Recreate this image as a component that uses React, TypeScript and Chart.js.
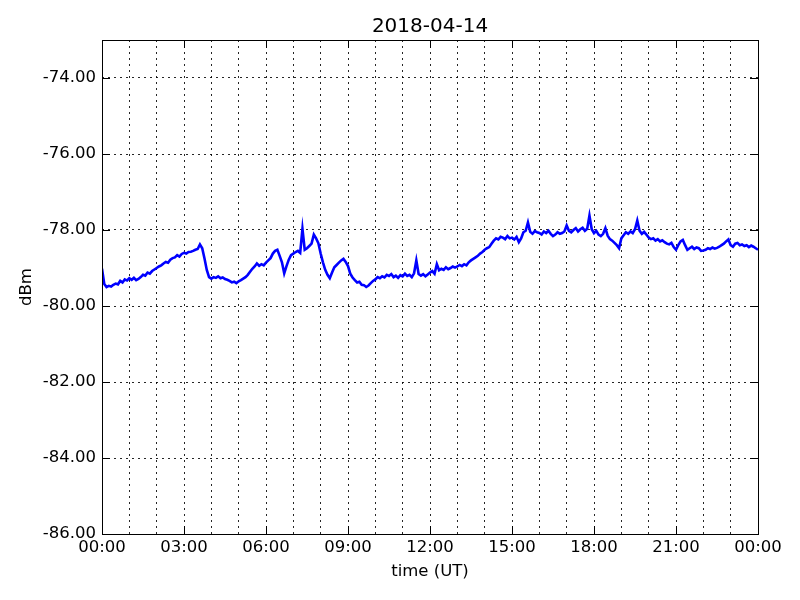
import React, { useEffect, useRef } from "react";
import { Chart, registerables } from "chart.js";

Chart.register(...registerables);

const chartTitle = "2018-04-14";
const xAxisLabel = "time (UT)";
const yAxisLabel = "dBm";
const sampleStepMinutes = 5;
const xTickLabels = ["00:00", "03:00", "06:00", "09:00", "12:00", "15:00", "18:00", "21:00", "00:00"];
const yTickValues = [-86, -84, -82, -80, -78, -76, -74];

// signal level (dBm), one sample every 5 minutes, 00:00 .. 24:00
const signalDbm = [
  // 00h
  -79.02, -79.42, -79.50, -79.47, -79.49, -79.44, -79.41, -79.43, -79.34, -79.38, -79.30, -79.33,
  // 01h
  -79.27, -79.31, -79.26, -79.32, -79.29, -79.24, -79.18, -79.20, -79.12, -79.15, -79.08, -79.04,
  // 02h
  -79.00, -78.96, -78.93, -78.88, -78.84, -78.86, -78.78, -78.74, -78.72, -78.66, -78.70, -78.63,
  // 03h
  -78.60, -78.62, -78.58, -78.57, -78.55, -78.52, -78.50, -78.38, -78.48, -78.75, -79.05, -79.24,
  // 04h
  -79.28, -79.24, -79.26, -79.22, -79.27, -79.25, -79.29, -79.31, -79.34, -79.38, -79.36, -79.40,
  // 05h
  -79.35, -79.32, -79.28, -79.24, -79.18, -79.10, -79.02, -78.96, -78.88, -78.94, -78.90, -78.93,
  // 06h
  -78.86, -78.80, -78.74, -78.62, -78.55, -78.52, -78.68, -78.85, -79.14, -78.95, -78.78, -78.66,
  // 07h
  -78.62, -78.58, -78.55, -78.60, -77.97, -78.52, -78.48, -78.42, -78.36, -78.12, -78.22, -78.35,
  // 08h
  -78.62, -78.85, -79.05, -79.18, -79.27, -79.12, -78.98, -78.92, -78.86, -78.80, -78.76, -78.84,
  // 09h
  -78.95, -79.15, -79.25, -79.32, -79.38, -79.36, -79.44, -79.45, -79.50, -79.46, -79.40, -79.34,
  // 10h
  -79.30, -79.24, -79.27, -79.22, -79.25, -79.18, -79.21, -79.16, -79.24, -79.20, -79.26, -79.19,
  // 11h
  -79.22, -79.15, -79.21, -79.18, -79.24, -79.14, -78.80, -79.16, -79.20, -79.16, -79.22, -79.17,
  // 12h
  -79.12, -79.08, -79.15, -78.90, -79.06, -79.02, -79.05, -78.98, -79.03, -79.00, -78.96, -78.99,
  // 13h
  -78.96, -78.92, -78.95, -78.90, -78.93, -78.85, -78.80, -78.76, -78.72, -78.68, -78.62, -78.58,
  // 14h
  -78.52, -78.48, -78.45, -78.36, -78.28, -78.22, -78.25, -78.18, -78.20, -78.24, -78.16, -78.22,
  // 15h
  -78.20, -78.25, -78.18, -78.32, -78.22, -78.06, -78.02, -77.80, -78.05, -78.10, -78.03, -78.06,
  // 16h
  -78.08, -78.12, -78.04, -78.08, -78.02, -78.10, -78.16, -78.12, -78.06, -78.10, -78.08, -78.04,
  // 17h
  -77.88, -78.02, -78.06, -78.00, -77.95, -78.04, -77.98, -77.94, -78.02, -77.97, -77.62, -77.98,
  // 18h
  -78.08, -78.02, -78.12, -78.16, -78.10, -77.95, -78.15, -78.24, -78.28, -78.34, -78.40, -78.48,
  // 19h
  -78.22, -78.14, -78.06, -78.10, -78.04, -78.08, -77.98, -77.75, -78.02, -78.10, -78.05, -78.12,
  // 20h
  -78.20, -78.24, -78.22, -78.28, -78.24, -78.30, -78.27, -78.32, -78.36, -78.38, -78.34, -78.45,
  // 21h
  -78.52, -78.40, -78.30, -78.26, -78.40, -78.52, -78.48, -78.44, -78.50, -78.46, -78.48, -78.55,
  // 22h
  -78.54, -78.52, -78.48, -78.50, -78.46, -78.49, -78.47, -78.44, -78.40, -78.36, -78.30, -78.25,
  // 23h
  -78.40, -78.44, -78.36, -78.34, -78.40, -78.38, -78.42, -78.40, -78.45, -78.41, -78.44, -78.48,
  // 24h
  -78.52,
];

const FONT = "'DejaVu Sans', sans-serif";

const frameAndTicks = {
  id: "frameAndTicks",
  afterDraw(chart: any) {
    const { ctx, chartArea } = chart;
    const { left, right, top, bottom } = chartArea;
    const xs = chart.scales.x;
    const ys = chart.scales.y;
    ctx.save();
    ctx.strokeStyle = "#000";
    ctx.lineWidth = 1;
    ctx.beginPath();
    yTickValues.forEach((v) => {
      const y = Math.round(ys.getPixelForValue(v)) + 0.5;
      ctx.moveTo(left, y);
      ctx.lineTo(left + 8, y);
      ctx.moveTo(right, y);
      ctx.lineTo(right - 8, y);
    });
    xTickLabels.forEach((_, i) => {
      const x = Math.round(xs.getPixelForValue(i * 180)) + 0.5;
      ctx.moveTo(x, bottom);
      ctx.lineTo(x, bottom - 8);
      ctx.moveTo(x, top);
      ctx.lineTo(x, top + 8);
    });
    ctx.stroke();
    ctx.strokeRect(Math.round(left) + 0.5, Math.round(top) + 0.5, Math.round(right - left), Math.round(bottom - top));
    // title centred over the plot area
    ctx.fillStyle = "#000";
    ctx.font = `20px ${FONT}`;
    ctx.textAlign = "center";
    ctx.textBaseline = "middle";
    ctx.fillText(chartTitle, (left + right) / 2, 27);
    ctx.restore();
  },
};

export default function App() {
  const canvasRef = useRef<HTMLCanvasElement | null>(null);

  useEffect(() => {
    if (!canvasRef.current) return;
    const points = signalDbm.map((v, i) => ({ x: i * sampleStepMinutes, y: v }));
    const chart = new Chart(canvasRef.current, {
      type: "line",
      data: {
        datasets: [
          {
            data: points,
            borderColor: "#0000ff",
            borderWidth: 2.6,
            pointRadius: 0,
            tension: 0,
            fill: false,
          },
        ],
      },
      options: {
        animation: false,
        responsive: false,
        maintainAspectRatio: false,
        layout: { padding: { left: 0, right: 42, top: 40, bottom: 0 } },
        plugins: {
          legend: { display: false },
          tooltip: { enabled: false },
          title: { display: false },
        },
        scales: {
          x: {
            type: "linear",
            min: 0,
            max: 1440,
            afterFit: (scale: any) => {
              scale.height = 66;
            },
            ticks: {
              stepSize: 60,
              autoSkip: false,
              maxRotation: 0,
              minRotation: 0,
              padding: 4,
              color: "#000",
              font: { family: FONT, size: 16.5 },
              callback: (v: any) => {
                const n = Number(v);
                return n % 180 === 0 ? xTickLabels[n / 180] : "";
              },
            },
            grid: {
              drawTicks: false,
              color: "rgba(0,0,0,0.85)",
              lineWidth: 1,
            },
            border: { display: false, dash: [2, 4] },
            title: {
              display: true,
              text: xAxisLabel,
              color: "#000",
              font: { family: FONT, size: 16.5 },
              padding: { top: 0, bottom: 18 },
            },
          },
          y: {
            type: "linear",
            min: -86,
            max: -73,
            afterFit: (scale: any) => {
              scale.width = 102;
            },
            afterBuildTicks: (scale: any) => {
              scale.ticks = yTickValues.map((v) => ({ value: v }));
            },
            ticks: {
              padding: 6,
              color: "#000",
              font: { family: FONT, size: 16.5 },
              callback: (v: any) => Number(v).toFixed(2),
            },
            grid: {
              drawTicks: false,
              color: "rgba(0,0,0,0.85)",
              lineWidth: 1,
            },
            border: { display: false, dash: [2, 4] },
            title: {
              display: true,
              text: yAxisLabel,
              color: "#000",
              font: { family: FONT, size: 16.5 },
              padding: { top: 17, bottom: 0 },
            },
          },
        },
      },
      plugins: [frameAndTicks],
    });
    return () => chart.destroy();
  }, []);

  return (
    <div style={{ position: "fixed", left: 0, top: 0, width: 800, height: 600, background: "#fff" }}>
      <canvas ref={canvasRef} width={800} height={600} style={{ width: 800, height: 600 }} />
    </div>
  );
}
